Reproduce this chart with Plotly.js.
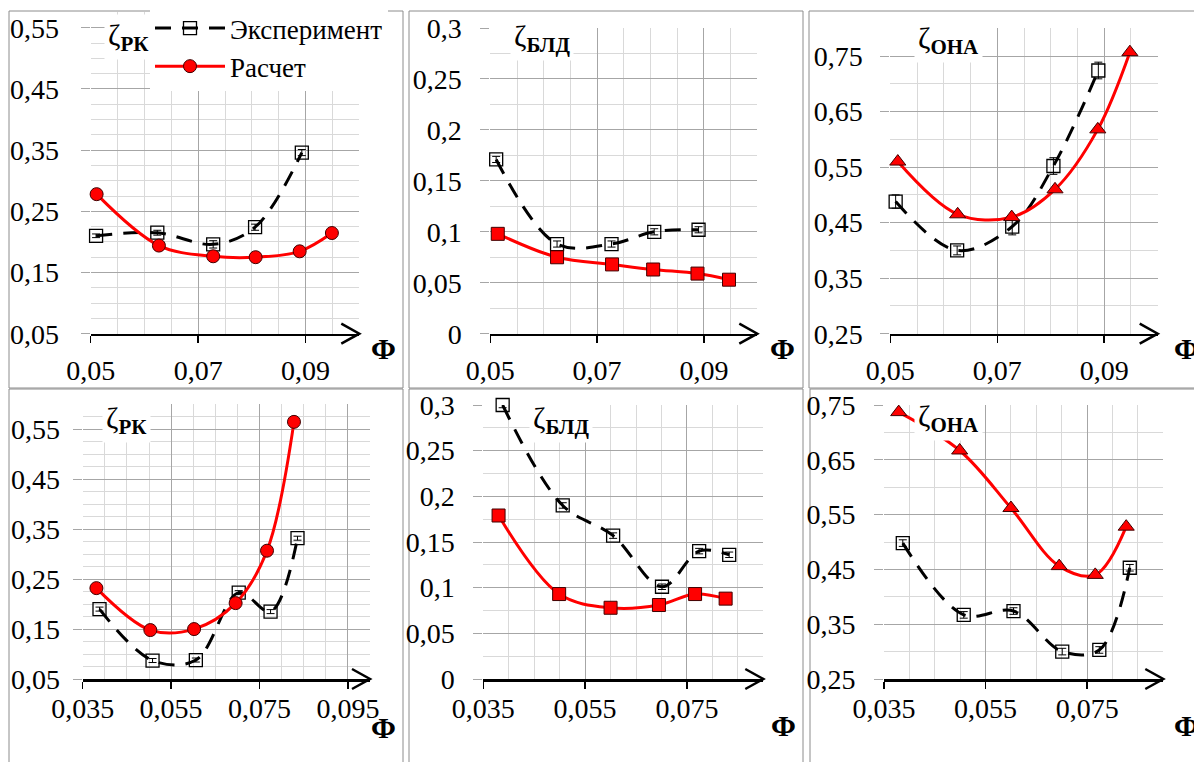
<!DOCTYPE html>
<html><head><meta charset="utf-8">
<script src="https://cdn.plot.ly/plotly-3.0.1.min.js"></script>
<style>
html,body{margin:0;padding:0;background:#fff}
#chart{width:1194px;height:762px}
</style>
</head><body><div id="chart"></div>
<script>
// ---------- data ----------
const seriesNames = ["Эксперимент", "Расчет"];
const panelLabels = ["РК", "БЛД", "ОНА", "РК", "БЛД", "ОНА"];
const axisLetter = "Φ";

// top row
const p1ExpX = [0.0510, 0.0624, 0.0728, 0.0806, 0.0893];
const p1ExpY = [0.210, 0.215, 0.196, 0.224, 0.346];
const p1ExpErr = [0.003, 0.004, 0.006, 0.005, 0.005];
const p1CalcX = [0.0511, 0.0627, 0.0728, 0.0807, 0.0889, 0.0949];
const p1CalcY = [0.278, 0.194, 0.1765, 0.175, 0.1846, 0.2145];

const p2ExpX = [0.0511, 0.0625, 0.0727, 0.0807, 0.0890];
const p2ExpY = [0.171, 0.088, 0.088, 0.100, 0.102];
const p2ExpErr = [0.003, 0.003, 0.003, 0.003, 0.003];
const p2CalcX = [0.0514, 0.0625, 0.0728, 0.0805, 0.0888, 0.0947];
const p2CalcY = [0.098, 0.075, 0.068, 0.063, 0.059, 0.053];

const p3ExpX = [0.0510, 0.0625, 0.0728, 0.0805, 0.0889];
const p3ExpY = [0.488, 0.400, 0.443, 0.552, 0.724];
const p3ExpErr = [0.012, 0.008, 0.015, 0.015, 0.015];
const p3CalcX = [0.0514, 0.0626, 0.0727, 0.0808, 0.0888, 0.0948];
const p3CalcY = [0.560, 0.465, 0.460, 0.510, 0.618, 0.757];

// bottom row
const p4ExpX = [0.0388, 0.0508, 0.0606, 0.0703, 0.0775, 0.0836];
const p4ExpY = [0.190, 0.087, 0.088, 0.223, 0.185, 0.332];
const p4ExpErr = [0.004, 0.004, 0.004, 0.004, 0.004, 0.004];
const p4CalcX = [0.0381, 0.0503, 0.0602, 0.0696, 0.0767, 0.0828];
const p4CalcY = [0.232, 0.148, 0.150, 0.202, 0.307, 0.565];

const p5ExpX = [0.0388, 0.0506, 0.0605, 0.0701, 0.0774, 0.0833];
const p5ExpY = [0.300, 0.190, 0.157, 0.101, 0.140, 0.136];
const p5ExpErr = [0.003, 0.003, 0.003, 0.003, 0.003, 0.003];
const p5CalcX = [0.0380, 0.0499, 0.0600, 0.0695, 0.0766, 0.0826];
const p5CalcY = [0.179, 0.093, 0.078, 0.081, 0.093, 0.088];

const p6ExpX = [0.0387, 0.0507, 0.0605, 0.0701, 0.0774, 0.0834];
const p6ExpY = [0.498, 0.367, 0.374, 0.300, 0.303, 0.453];
const p6ExpErr = [0.006, 0.006, 0.006, 0.006, 0.006, 0.006];
const p6CalcX = [0.0379, 0.0499, 0.0600, 0.0695, 0.0766, 0.0827];
const p6CalcY = [0.737, 0.667, 0.562, 0.456, 0.440, 0.528];

// ---------- layout helpers ----------
const W = 1194, H = 762;
const fx = p => p / W;
const fy = p => 1 - p / H;
const FONT = "Liberation Serif, Times New Roman, serif";

const panels = [
  {ex:p1ExpX, ey:p1ExpY, ee:p1ExpErr, cx:p1CalcX, cy:p1CalcY, sym:'circle',
   xr:[0.05,0.1], yr:[0.05,0.575], xt0:0.05, xdt:0.02, xf:'.2f', yt0:0.05, ydt:0.1, yf:'.2f', ymin:0.025,
   dom:[90.7,359.3,12.4,333.7], so:16, xso:3, lab:[128,37], phi:[383,348]},
  {ex:p2ExpX, ey:p2ExpY, ee:p2ExpErr, cx:p2CalcX, cy:p2CalcY, sym:'square',
   xr:[0.05,0.1], yr:[0,0.3], xt0:0.05, xdt:0.02, xf:'.2f', yt0:0, ydt:0.05, yf:'', ymin:0.025,
   dom:[490.3,757.3,28,333.7], so:13, xso:3, lab:[542,38], phi:[782,348]},
  {ex:p3ExpX, ey:p3ExpY, ee:p3ExpErr, cx:p3CalcX, cy:p3CalcY, sym:'triangle-up',
   xr:[0.05,0.1], yr:[0.25,0.8], xt0:0.05, xdt:0.02, xf:'.2f', yt0:0.25, ydt:0.1, yf:'.2f', ymin:0.05,
   dom:[890.3,1157.7,28.3,333.7], so:12, xso:3, lab:[948,40], phi:[1186,348]},
  {ex:p4ExpX, ey:p4ExpY, ee:p4ExpErr, cx:p4CalcX, cy:p4CalcY, sym:'circle',
   xr:[0.035,0.1], yr:[0.05,0.6], xt0:0.035, xdt:0.02, xf:'.3f', yt0:0.05, ydt:0.1, yf:'.2f', ymin:0.025,
   dom:[82.7,370,404.4,679], so:7, xso:-4, lab:[126,420], phi:[383,727]},
  {ex:p5ExpX, ey:p5ExpY, ee:p5ExpErr, cx:p5CalcX, cy:p5CalcY, sym:'square',
   xr:[0.035,0.09], yr:[0,0.3], xt0:0.035, xdt:0.02, xf:'.3f', yt0:0, ydt:0.05, yf:'', ymin:0.025,
   dom:[483.3,763.3,405,679], so:13, xso:-4, lab:[561,420], phi:[783,725]},
  {ex:p6ExpX, ey:p6ExpY, ee:p6ExpErr, cx:p6CalcX, cy:p6CalcY, sym:'triangle-up',
   xr:[0.035,0.09], yr:[0.25,0.75], xt0:0.035, xdt:0.02, xf:'.3f', yt0:0.25, ydt:0.1, yf:'.2f', ymin:0.05,
   dom:[884,1163.3,405,679], so:13, xso:-4, lab:[948,418], phi:[1186,725]}
];

const data = [];
const layout = {
  width: W, height: H,
  margin: {l:0, r:0, t:0, b:0},
  paper_bgcolor: '#fff', plot_bgcolor: '#fff',
  separators: ', ',
  font: {family: FONT, size: 26, color: '#000'},
  showlegend: true,
  legend: {x: fx(150), y: fy(4), xanchor: 'left', yanchor: 'top', bgcolor: '#fff',
           font: {family: FONT, size: 27, color: '#000'}, itemwidth: 70, tracegroupgap: 0},
  shapes: [], annotations: []
};

const majorGrid = '#a6a6a6', minorGrid = '#d9d9d9';

panels.forEach((p, i) => {
  const n = i + 1;
  const xa = 'x' + (n === 1 ? '' : n), ya = 'y' + (n === 1 ? '' : n);
  const xk = 'xaxis' + (n === 1 ? '' : n), yk = 'yaxis' + (n === 1 ? '' : n);
  data.push({
    type: 'scatter', mode: 'lines+markers', name: seriesNames[0], x: p.ex, y: p.ey,
    xaxis: xa, yaxis: ya, showlegend: n === 1, legendrank: 1, cliponaxis: false,
    line: {color: '#000', width: 3, dash: '16px,11px', shape: 'spline', smoothing: 1},
    marker: {symbol: 'square-open', size: 13, color: '#000', line: {width: 1.3, color: '#000'}},
    error_y: {type: 'data', array: p.ee, visible: true, color: '#000', thickness: 1, width: 4}
  });
  data.push({
    type: 'scatter', mode: 'lines+markers', name: seriesNames[1], x: p.cx, y: p.cy,
    xaxis: xa, yaxis: ya, showlegend: n === 1, legendrank: 2, cliponaxis: false,
    line: {color: '#ff0000', width: 3, shape: 'spline', smoothing: 1},
    marker: {symbol: p.sym, size: p.sym === 'triangle-up' ? 14 : 13, color: '#ff0000',
             line: {width: 1, color: '#400000'}}
  });
  const d = p.dom;
  layout[xk] = {
    domain: [fx(d[0]), fx(d[1])], anchor: ya, range: p.xr, fixedrange: true,
    tick0: p.xt0, dtick: p.xdt, tickformat: p.xf, ticks: 'outside', ticklen: 7,
    tickcolor: '#000', tickwidth: 1.5, showline: true, linecolor: '#000', linewidth: 2.5,
    showgrid: true, gridcolor: majorGrid, gridwidth: 1, zeroline: false,
    tickfont: {family: FONT, size: 28, color: '#000'}, ticklabelstandoff: p.xso,
    minor: {dtick: 0.005, tick0: p.xt0, showgrid: true, gridcolor: minorGrid, gridwidth: 1}
  };
  layout[yk] = {
    domain: [fy(d[3]), fy(d[2])], anchor: xa, range: p.yr, fixedrange: true,
    tick0: p.yt0, dtick: p.ydt, tickformat: p.yf, ticks: 'outside', ticklen: 9,
    tickcolor: majorGrid, tickwidth: 1, showline: false, zeroline: false,
    showgrid: true, gridcolor: majorGrid, gridwidth: 1,
    tickfont: {family: FONT, size: 28, color: '#000'}, ticklabelstandoff: p.so,
    minor: {dtick: p.ymin, tick0: p.yt0, showgrid: true, gridcolor: minorGrid, gridwidth: 1}
  };
  // arrow head at the end of the x axis (paper coordinates, so it is not clipped)
  const tx = fx(d[1]), ty = fy(d[3]), bx = fx(d[1] - 18), uy = fy(d[3] - 10), ly = fy(d[3] + 10);
  layout.shapes.push({
    type: 'path', xref: 'paper', yref: 'paper',
    path: 'M' + bx + ',' + uy + ' L' + tx + ',' + ty + ' L' + bx + ',' + ly,
    line: {color: '#000', width: 2.5}, layer: 'above'
  });
  // panel label
  layout.annotations.push({
    xref: 'paper', yref: 'paper', x: fx(p.lab[0]), y: fy(p.lab[1]), xanchor: 'center', yanchor: 'middle',
    text: 'ζ<sub><b>' + panelLabels[i] + '</b></sub>', showarrow: false, bgcolor: '#fff', borderpad: 3,
    font: {family: FONT, size: 30, color: '#000'}
  });
  layout.annotations.push({
    xref: 'paper', yref: 'paper', x: fx(p.phi[0]), y: fy(p.phi[1]), xanchor: 'center', yanchor: 'middle',
    text: '<b>' + axisLetter + '</b>', showarrow: false,
    font: {family: FONT, size: 30, color: '#000'}
  });
});

// panel frames
const frames = [[9,11,403,388],[409,11,803,388],[809,11,1200,388],[9,389,403,770],[409,389,803,770],[810,389,1200,770]];
frames.forEach(f => layout.shapes.push({
  type: 'rect', xref: 'paper', yref: 'paper', x0: fx(f[0]), x1: fx(f[2]), y0: fy(f[3]), y1: fy(f[1]),
  line: {color: '#8c8c8c', width: 1}, fillcolor: 'rgba(0,0,0,0)', layer: 'below'
}));

Plotly.newPlot('chart', data, layout, {displayModeBar: false, staticPlot: true});
</script>
</body></html>
